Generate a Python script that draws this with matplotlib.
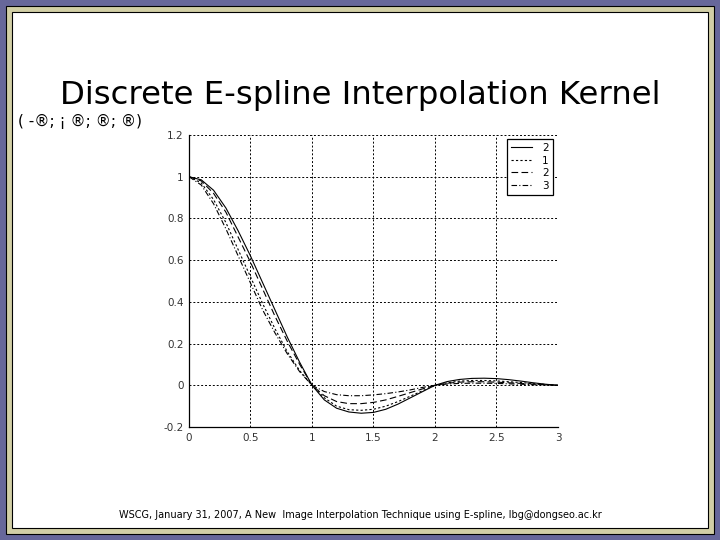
import numpy as np
import matplotlib
matplotlib.use('Agg')
import matplotlib.pyplot as plt
from matplotlib.patches import Rectangle

# x positions of the kernel samples
x = np.round(np.arange(0, 3.01, 0.1), 2)

# kernel curves
k_solid = [1.0, 0.985, 0.935, 0.85, 0.74, 0.62, 0.49, 0.36, 0.23, 0.11, 0.0,
           -0.07, -0.11, -0.128, -0.134, -0.13, -0.115, -0.09, -0.06, -0.03, 0.0,
           0.018, 0.028, 0.033, 0.034, 0.032, 0.027, 0.02, 0.012, 0.005, 0.0]
k_dotted = [1.0, 0.97, 0.89, 0.78, 0.65, 0.52, 0.39, 0.27, 0.16, 0.07, 0.0,
            -0.06, -0.1, -0.117, -0.12, -0.115, -0.1, -0.078, -0.052, -0.026, 0.0,
            0.012, 0.02, 0.023, 0.023, 0.021, 0.017, 0.013, 0.008, 0.004, 0.0]
k_dashed = [1.0, 0.98, 0.92, 0.83, 0.71, 0.59, 0.46, 0.33, 0.21, 0.10, 0.0,
            -0.05, -0.078, -0.088, -0.088, -0.082, -0.07, -0.053, -0.035, -0.017, 0.0,
            0.01, 0.015, 0.017, 0.017, 0.015, 0.012, 0.009, 0.006, 0.003, 0.0]
k_dashdot = [1.0, 0.96, 0.87, 0.75, 0.62, 0.49, 0.36, 0.25, 0.15, 0.065, 0.0,
             -0.03, -0.045, -0.05, -0.05, -0.046, -0.04, -0.032, -0.022, -0.01, 0.0,
             0.006, 0.009, 0.01, 0.01, 0.009, 0.007, 0.005, 0.003, 0.002, 0.0]
labels = ['2', '1', '2', '3']

fig = plt.figure(figsize=(7.2, 5.4), dpi=100)
fig.patch.set_facecolor('white')

# slide frame: purple outside, beige band, white page
fig.patches.append(Rectangle((0, 0), 1, 1, transform=fig.transFigure,
                             facecolor='#67679a', edgecolor='none', zorder=-3))
fig.patches.append(Rectangle((6/720, 6/540), 708/720, 528/540, transform=fig.transFigure,
                             facecolor='#d2cfa6', edgecolor='black', lw=0.8, zorder=-2))
fig.patches.append(Rectangle((12/720, 12/540), 696/720, 516/540, transform=fig.transFigure,
                             facecolor='white', edgecolor='black', lw=0.8, zorder=-1))

fig.text(0.5, 1 - 104/540, 'Discrete E-spline Interpolation Kernel',
         ha='center', va='baseline', fontsize=23.3, family='DejaVu Sans')
fig.text(18/720, 1 - 126/540, '( -®; ¡ ®; ®; ®)', ha='left', va='baseline', fontsize=11)
fig.text(0.5, 1 - 518/540,
         'WSCG, January 31, 2007, A New  Image Interpolation Technique using E-spline, lbg@dongseo.ac.kr',
         ha='center', va='baseline', fontsize=7)

ax = fig.add_axes([189/720, 113/540, 369/720, 292/540])
ax.plot(x, k_solid, color='black', lw=0.8, ls='-', label=labels[0])
ax.plot(x, k_dotted, color='black', lw=0.8, ls=(0, (2, 2)), label=labels[1])
ax.plot(x, k_dashed, color='black', lw=0.8, ls=(0, (6, 3)), label=labels[2])
ax.plot(x, k_dashdot, color='black', lw=0.8, ls=(0, (5, 2, 1, 2)), label=labels[3])

ax.set_xlim(0, 3)
ax.set_ylim(-0.2, 1.2)
ax.set_xticks([0, 0.5, 1, 1.5, 2, 2.5, 3])
ax.set_xticklabels(['0', '0.5', '1', '1.5', '2', '2.5', '3'])
ax.set_yticks([-0.2, 0, 0.2, 0.4, 0.6, 0.8, 1, 1.2])
ax.set_yticklabels(['-0.2', '0', '0.2', '0.4', '0.6', '0.8', '1', '1.2'])
ax.tick_params(length=0, labelsize=7.5, labelcolor='#333333', pad=4)
ax.grid(True, color='black', ls=(0, (2, 2)), lw=0.7)
ax.spines['top'].set_visible(False)
ax.spines['right'].set_visible(False)
ax.spines['left'].set_linewidth(0.9)
ax.spines['bottom'].set_linewidth(0.9)

leg = ax.legend(loc='upper right', bbox_to_anchor=(1.0, 1.005), fontsize=7.5,
                handlelength=2.0, handletextpad=1.0, borderpad=0.4, labelspacing=0.25,
                fancybox=False, framealpha=1, edgecolor='black')
leg.get_frame().set_linewidth(0.9)

fig.savefig('out.png', dpi=100)
